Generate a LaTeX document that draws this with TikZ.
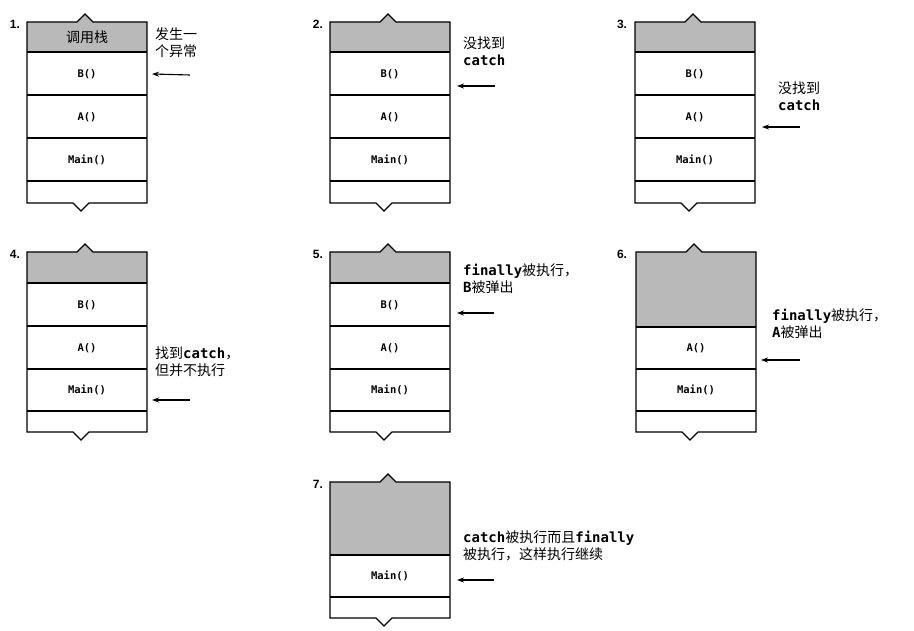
\documentclass[tikz,border=0pt]{standalone}
\usepackage{fontspec}
\setmainfont{Liberation Sans}
\setmonofont{DejaVu Sans Mono}
\newfontfamily\cjk{Noto Sans CJK SC}
\tikzset{
  frame/.style={draw=black,line width=1.2pt,line join=miter},
  cell/.style={font=\ttfamily\bfseries\fontsize{10.5}{12}\selectfont,inner sep=0pt},
  num/.style={font=\bfseries\fontsize{12}{14}\selectfont,inner sep=0pt},
  lbl/.style={font=\fontsize{14}{17}\selectfont,align=left,anchor=north west,inner sep=0pt},
  arr/.style={-{Stealth[length=7pt,width=5pt]},line width=1.1pt}
}
\usetikzlibrary{arrows.meta}
% #1 x left, #2 top, #3 grey bottom, #4 bottom
\newcommand{\stk}[4]{%
  \fill[gray!55] (#1,#2) -- (#1+50,#2) -- (#1+58,#2-8) -- (#1+66,#2) -- (#1+120,#2) -- (#1+120,#3) -- (#1,#3) -- cycle;
  \draw[frame] (#1,#2) -- (#1+50,#2) -- (#1+58,#2-8) -- (#1+66,#2) -- (#1+120,#2) -- (#1+120,#4) -- (#1+62,#4) -- (#1+54,#4+8) -- (#1+46,#4) -- (#1,#4) -- cycle;
}
\newcommand{\rl}[2]{\draw[frame] (#1,#2) -- (#1+120,#2);}
\begin{document}
\begin{tikzpicture}[x=1pt,y=-1pt]
\useasboundingbox[fill=white] (0,0) rectangle (914,631);
% panel 1
\stk{27}{22}{52}{203}\rl{27}{52}\rl{27}{95}\rl{27}{138}\rl{27}{181}
\node[num] (n1) at (15,24) {1.};
\node[font=\cjk\fontsize{14}{16}\selectfont,inner sep=0pt] (h1) at (87,37) {调用栈};
\node[cell] (b1) at (87,74) {B()};
\node[cell] (a1) at (87,117) {A()};
\node[cell] (m1) at (87,160) {Main()};
\node[lbl] (t1) at (155,27) {\cjk 发生一\\\cjk 个异常};
\coordinate (s1) at (190,75);
\draw[arr] (s1) -- (b1.east -| 152,0);
% panel 2
\stk{330}{22}{52}{203}\rl{330}{52}\rl{330}{95}\rl{330}{138}\rl{330}{181}
\node[num] (n2) at (318,24) {2.};
\node[cell] (b2) at (390,74) {B()};
\node[cell] (a2) at (390,117) {A()};
\node[cell] (m2) at (390,160) {Main()};
\node[lbl] (t2) at (463,37) {\cjk 没找到\\\ttfamily\bfseries catch};
\coordinate (s2) at (495,86);
\draw[arr] (s2) -- (457,86);
% panel 3
\stk{635}{22}{52}{203}\rl{635}{52}\rl{635}{95}\rl{635}{138}\rl{635}{181}
\node[num] (n3) at (622,24) {3.};
\node[cell] (b3) at (695,74) {B()};
\node[cell] (a3) at (695,117) {A()};
\node[cell] (m3) at (695,160) {Main()};
\node[lbl] (t3) at (778,82) {\cjk 没找到\\\ttfamily\bfseries catch};
\coordinate (s3) at (800,127);
\draw[arr] (s3) -- (762,127);
% panel 4
\stk{27}{252}{283}{432}\rl{27}{283}\rl{27}{326}\rl{27}{369}\rl{27}{411}
\node[num] (n4) at (15,254) {4.};
\node[cell] (b4) at (87,305) {B()};
\node[cell] (a4) at (87,348) {A()};
\node[cell] (m4) at (87,390) {Main()};
\node[lbl] (t4) at (155,347) {\cjk 找到{\ttfamily\bfseries catch}，\\\cjk 但并不执行};
\coordinate (s4) at (190,400);
\draw[arr] (s4) -- (152,400);
% panel 5
\stk{330}{252}{283}{432}\rl{330}{283}\rl{330}{326}\rl{330}{369}\rl{330}{411}
\node[num] (n5) at (318,254) {5.};
\node[cell] (b5) at (390,305) {B()};
\node[cell] (a5) at (390,348) {A()};
\node[cell] (m5) at (390,390) {Main()};
\node[lbl] (t5) at (463,264) {{\ttfamily\bfseries finally}\cjk 被执行，\\{\ttfamily\bfseries B}\cjk 被弹出};
\coordinate (s5) at (494,313);
\draw[arr] (s5) -- (457,313);
% panel 6
\stk{636}{252}{327}{432}\rl{636}{327}\rl{636}{369}\rl{636}{411}
\node[num] (n6) at (622,254) {6.};
\node[cell] (a6) at (696,348) {A()};
\node[cell] (m6) at (696,390) {Main()};
\node[lbl] (t6) at (772,309) {{\ttfamily\bfseries finally}\cjk 被执行，\\{\ttfamily\bfseries A}\cjk 被弹出};
\coordinate (s6) at (800,360);
\draw[arr] (s6) -- (761,360);
% panel 7
\stk{330}{482}{555}{618}\rl{330}{555}\rl{330}{597}
\node[num] (n7) at (318,484) {7.};
\node[cell] (m7) at (390,576) {Main()};
\node[lbl] (t7) at (463,531) {{\ttfamily\bfseries catch}\cjk 被执行而且{\ttfamily\bfseries finally}\\\cjk 被执行，这样执行继续};
\coordinate (s7) at (494,580);
\draw[arr] (s7) -- (457,580);
\end{tikzpicture}
\end{document}
